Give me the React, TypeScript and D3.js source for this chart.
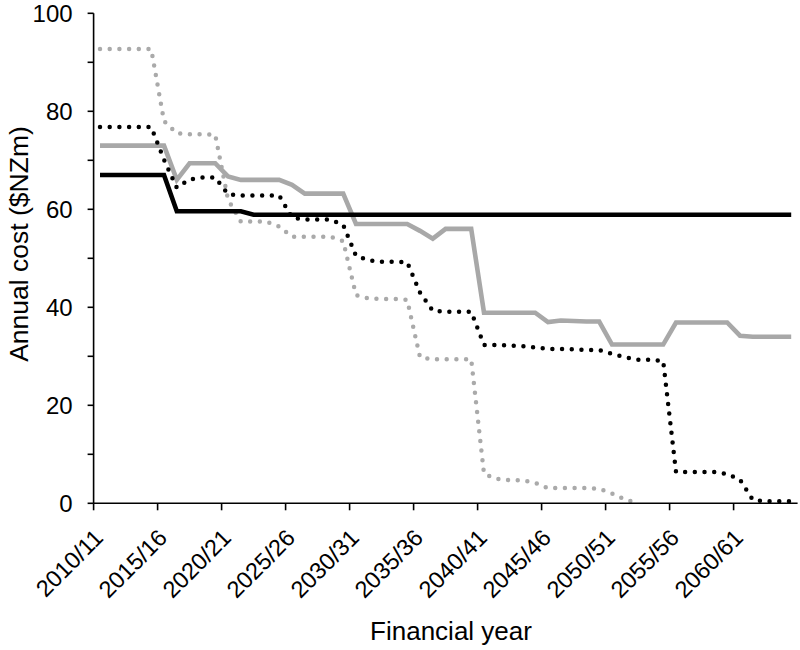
import React from "react";
import * as d3 from "d3";

const years: string[] = [
  "2010/11","2011/12","2012/13","2013/14","2014/15","2015/16","2016/17","2017/18","2018/19","2019/20",
  "2020/21","2021/22","2022/23","2023/24","2024/25","2025/26","2026/27","2027/28","2028/29","2029/30",
  "2030/31","2031/32","2032/33","2033/34","2034/35","2035/36","2036/37","2037/38","2038/39","2039/40",
  "2040/41","2041/42","2042/43","2043/44","2044/45","2045/46","2046/47","2047/48","2048/49","2049/50",
  "2050/51","2051/52","2052/53","2053/54","2054/55","2055/56","2056/57","2057/58","2058/59","2059/60",
  "2060/61","2061/62","2062/63","2063/64","2064/65",
];

const blackSolid: (number | null)[] = [
  67, 67, 67, 67, 67, 67, 59.6, 59.6, 59.6, 59.6,
  59.6, 59.6, 58.9, 58.9, 58.9, 58.9, 58.9, 58.9, 58.9, 58.9,
  58.9, 58.9, 58.9, 58.9, 58.9, 58.9, 58.9, 58.9, 58.9, 58.9,
  58.9, 58.9, 58.9, 58.9, 58.9, 58.9, 58.9, 58.9, 58.9, 58.9,
  58.9, 58.9, 58.9, 58.9, 58.9, 58.9, 58.9, 58.9, 58.9, 58.9,
  58.9, 58.9, 58.9, 58.9, 58.9,
];

const greySolid: (number | null)[] = [
  73, 73, 73, 73, 73, 73, 66, 69.4, 69.4, 69.4,
  66.7, 66, 66, 66, 66, 65, 63.2, 63.2, 63.2, 63.2,
  57, 57, 57, 57, 57, 55.6, 54, 56, 56, 56,
  38.9, 38.9, 38.9, 38.9, 38.9, 37, 37.3, 37.2, 37.1, 37.1,
  32.4, 32.4, 32.4, 32.4, 32.4, 36.9, 36.9, 36.9, 36.9, 36.9,
  34.2, 34, 34, 34, 34,
];

const blackDotted: (number | null)[] = [
  76.8, 76.8, 76.8, 76.8, 76.8, 70.1, 64.4, 66.1, 66.5, 66.5,
  63.1, 62.8, 62.8, 62.8, 62.8, 58.3, 57.9, 57.9, 57.9, 56.8,
  50.5, 49.6, 49.3, 49.3, 49.2, 43, 39.3, 39.1, 39.1, 39.1,
  32.3, 32.3, 32.2, 32.1, 31.8, 31.5, 31.5, 31.4, 31.3, 31.3,
  30.5, 29.8, 29.3, 29.3, 29, 6.4, 6.4, 6.4, 6.4, 6,
  4.8, 0.7, 0.4, 0.4, 0.4,
];

const greyDotted: (number | null)[] = [
  92.7, 92.7, 92.7, 92.7, 92.7, 78, 75.5, 75.3, 75.3, 75.2,
  62, 57.5, 57.5, 57.5, 56.5, 54.4, 54.4, 54.4, 54.4, 53.5,
  42.5, 41.8, 41.7, 41.7, 41.5, 29.8, 29.4, 29.4, 29.4, 29.4,
  6, 5, 4.7, 4.7, 4.2, 3.1, 3.1, 3.1, 3.1, 3,
  2, 0.8, 0, null, null, null, null, null, null, null,
  null, null, null, null, null,
];

const yTicks = [0, 10, 20, 30, 40, 50, 60, 70, 80, 90, 100];
const yLabels = [0, 20, 40, 60, 80, 100];
const labelEvery = 5;

const FONT = "'Liberation Sans', Arial, Helvetica, sans-serif";

export default function App() {
  const W = 800, H = 650;
  const x = d3.scaleLinear().domain([-0.5, years.length - 0.5]).range([93.6, 797.6]);
  const y = d3.scaleLinear().domain([0, 100]).range([503.3, 13.3]);

  const line = d3
    .line<number | null>()
    .defined((d) => d !== null)
    .x((_, i) => x(i))
    .y((d) => y(d as number));

  const tickIdx = years.map((_, i) => i).filter((i) => i % labelEvery === 0);
  const x0 = x.range()[0];
  const x1 = x.range()[1];

  return (
    <svg width={W} height={H} style={{ position: "absolute", left: 0, top: 0, background: "#fff" }} fontFamily={FONT}>
      <rect x={0} y={0} width={W} height={H} fill="#fff" />
      {/* series */}
      <path d={line(greyDotted) || ""} fill="none" stroke="#aaaaaa" strokeWidth={4.5} strokeLinecap="round" strokeDasharray="0 9.7" />
      <path d={line(greySolid) || ""} fill="none" stroke="#a8a8a8" strokeWidth={4.6} />
      <path d={line(blackDotted) || ""} fill="none" stroke="#000" strokeWidth={4.5} strokeLinecap="round" strokeDasharray="0 9.7" />
      <path d={line(blackSolid) || ""} fill="none" stroke="#000" strokeWidth={4.6} />

      {/* y axis */}
      <line x1={x0} x2={x0} y1={y(100)} y2={y(0)} stroke="#000" strokeWidth={1.6} />
      {yTicks.map((t) => (
        <line key={"yt" + t} x1={x0 - 6} x2={x0} y1={y(t)} y2={y(t)} stroke="#000" strokeWidth={1.6} />
      ))}
      {yLabels.map((t) => (
        <text key={"yl" + t} x={x0 - 21} y={y(t)} dy="0.36em" textAnchor="end" fontSize={24} fill="#000">
          {t}
        </text>
      ))}

      {/* x axis */}
      <line x1={x0} x2={x1} y1={y(0)} y2={y(0)} stroke="#000" strokeWidth={1.6} />
      {tickIdx.map((i) => (
        <line key={"xt" + i} x1={x(i - 0.5)} x2={x(i - 0.5)} y1={y(0)} y2={y(0) + 7} stroke="#000" strokeWidth={1.6} />
      ))}
      {tickIdx.map((i) => (
        <text
          key={"xl" + i}
          transform={`translate(${x(i) + 4.5},${y(0) + 36}) rotate(-45)`}
          textAnchor="end"
          fontSize={23.5}
          fill="#000"
        >
          {years[i]}
        </text>
      ))}

      {/* titles */}
      <text x={451} y={640} textAnchor="middle" fontSize={26} fill="#000">
        Financial year
      </text>
      <text transform={`translate(28,244) rotate(-90)`} textAnchor="middle" fontSize={26.5} fill="#000">
        Annual cost ($NZm)
      </text>
    </svg>
  );
}
